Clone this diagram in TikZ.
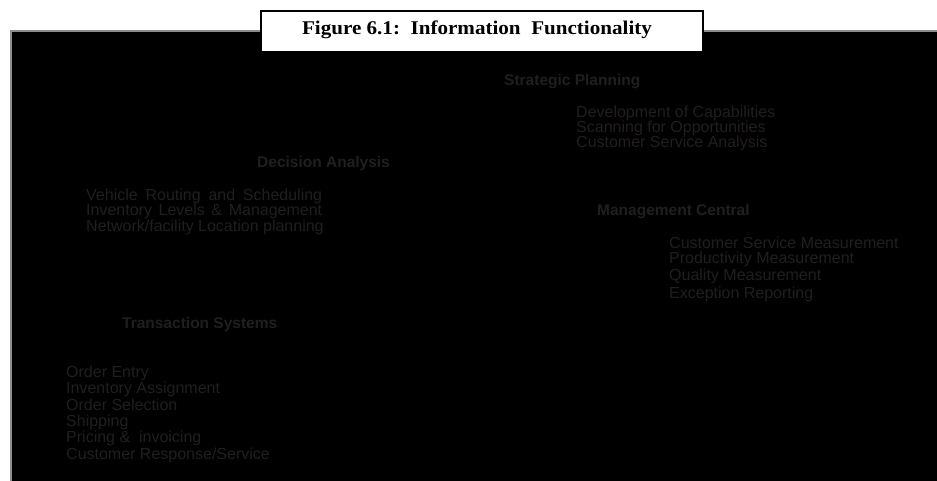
\documentclass[tikz,border=0pt]{standalone}
\usepackage{fontspec}
\setmainfont{Liberation Sans}
\newfontfamily\titlefont{Liberation Serif}
\definecolor{txtgray}{RGB}{34,30,30}
\definecolor{edgegray}{RGB}{140,140,140}
\tikzset{
  head/.style={anchor=west, inner sep=0pt, text=txtgray, font=\fontsize{15.5}{16}\selectfont\bfseries},
  item/.style={anchor=west, inner sep=0pt, text=txtgray, font=\fontsize{16}{16}\selectfont},
}
\begin{document}
\begin{tikzpicture}[x=1pt,y=-1pt]
\useasboundingbox (0,0) rectangle (937,481);
\fill[white] (0,0) rectangle (937,481);
% black panel
\fill[black] (12,31) rectangle (937,481);
\draw[edgegray, line width=1.5pt] (10,31) -- (937,31);
\draw[edgegray, line width=1.2pt] (11,31) -- (11,481);
% title box
\node[draw=black, fill=white, line width=2pt, minimum width=442pt, minimum height=41pt, anchor=north west, inner sep=0pt] (title) at (260,10) {};
\node[inner sep=0pt, font=\titlefont\fontsize{18.5}{20}\selectfont\bfseries, xscale=1.14, yscale=1.05, transform shape] (titletext) at (477,30) {Figure 6.1:\ \ Information\ \ Functionality};
% Strategic Planning
\node[head] (sp) at (504,82) {Strategic Planning};
\node[item] (sp1) at (576,113) {Development of Capabilities};
\node[item] (sp2) at (576,128) {Scanning for Opportunities};
\node[item] (sp3) at (576,143) {Customer Service Analysis};
% Decision Analysis
\node[head] (da) at (257,163) {Decision Analysis};
\node[item] (da1) at (86,196) {\makebox[236pt][s]{Vehicle Routing and Scheduling}};
\node[item] (da2) at (86,211) {\makebox[236pt][s]{Inventory Levels \& Management}};
\node[item] (da3) at (86,227) {Network/facility Location planning};
% Management Central
\node[head] (mc) at (597,212) {Management Central};
\node[item] (mc1) at (669,243) {Customer Service Measurement};
\node[item] (mc2) at (669,259) {Productivity Measurement};
\node[item] (mc3) at (669,276) {Quality Measurement};
\node[item] (mc4) at (669,294) {Exception Reporting};
% Transaction Systems
\node[head] (ts) at (122,324) {Transaction Systems};
\node[item] (ts1) at (66,373) {Order Entry};
\node[item] (ts2) at (66,389) {Inventory Assignment};
\node[item] (ts3) at (66,405) {Order Selection};
\node[item] (ts4) at (66,422) {Shipping};
\node[item] (ts5) at (66,438) {Pricing \&\ \ invoicing};
\node[item] (ts6) at (66,455) {Customer Response/Service};
\end{tikzpicture}
\end{document}
